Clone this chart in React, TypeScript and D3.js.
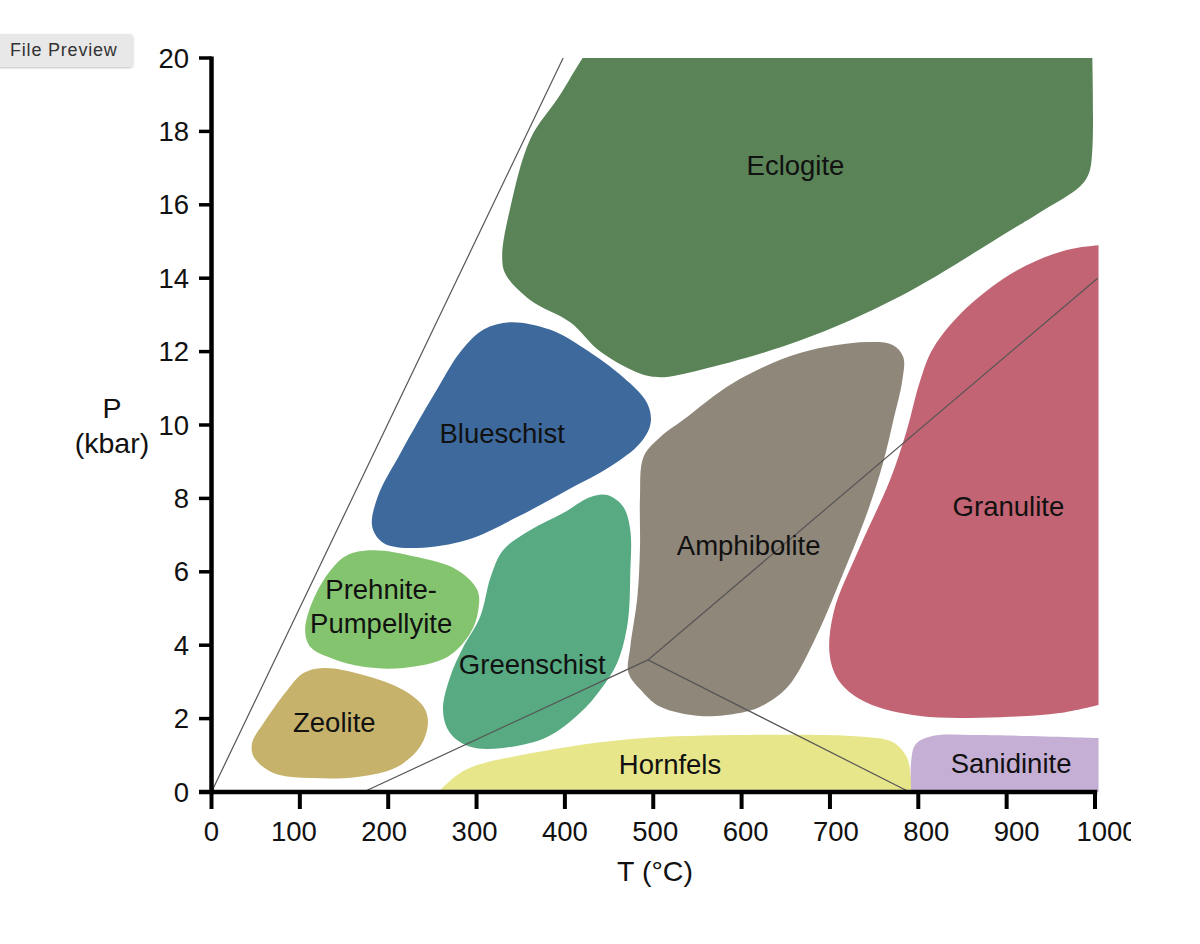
import React from "react";
import * as d3 from "d3";

type Pt = [number, number];

// Axis ticks
const T_TICKS = [0, 100, 200, 300, 400, 500, 600, 700, 800, 900, 1000];
const P_TICKS = [0, 2, 4, 6, 8, 10, 12, 14, 16, 18, 20];

// Facies outlines, [T (°C), P (kbar)]
const eclogite: Pt[] = [
  [420, 20], [997, 20], [997, 17.5], [993, 16.85], [983, 16.5], [938, 15.8],
  [904, 15.3], [779, 13.5], [666, 12.3], [553, 11.5], [508, 11.3], [485, 11.4],
  [440, 12.0], [406, 12.8], [361, 13.4], [333, 14.1], [329, 14.6], [338, 15.9],
  [361, 17.8], [392, 18.9], [406, 19.45],
];
const eclogiteCorners = [0, 1];
const blueschist: Pt[] = [
  [338, 12.8], [383, 12.6], [421, 12.1], [466, 11.3], [493, 10.6], [497, 10.05],
  [485, 9.5], [451, 8.86], [403, 8.23], [346, 7.49], [290, 6.87], [233, 6.65],
  [195, 6.78], [182, 7.22], [188, 8.04], [214, 9.24], [256, 11.0], [282, 12.0], [308, 12.6],
];
const prehnite: Pt[] = [
  [183, 6.59], [233, 6.4], [278, 6.05], [301, 5.5], [302, 4.96], [293, 4.33],
  [267, 3.68], [217, 3.38], [172, 3.41], [135, 3.65], [112, 3.95], [106, 4.41],
  [115, 5.23], [135, 6.05], [154, 6.46],
];
const zeolite: Pt[] = [
  [127, 3.38], [172, 3.19], [217, 2.78], [240, 2.32], [245, 1.88], [236, 1.23],
  [210, 0.68], [165, 0.41], [115, 0.38], [70, 0.52], [48, 0.95], [46, 1.34],
  [59, 1.88], [86, 2.78], [104, 3.24],
];
const greenschist: Pt[] = [
  [448, 8.09], [466, 7.77], [474, 7.14], [474, 5.97], [471, 4.6], [459, 3.51],
  [440, 2.78], [417, 2.15], [380, 1.5], [330, 1.2], [293, 1.23], [270, 1.61],
  [262, 2.23], [270, 3.13], [285, 3.95], [304, 4.77], [316, 5.86], [330, 6.59],
  [361, 7.14], [398, 7.6], [429, 8.04],
];
const amphibolite: Pt[] = [
  [742, 12.26], [771, 12.18], [783, 11.85], [782, 11.23], [771, 10.05], [760, 8.96],
  [742, 7.6], [712, 5.78], [681, 4.06], [652, 2.86], [621, 2.32], [598, 2.15],
  [553, 2.07], [508, 2.32], [489, 2.7], [472, 3.24], [474, 3.95], [482, 5.31],
  [485, 6.68], [485, 8.04], [489, 9.13], [508, 9.67], [534, 10.14], [590, 11.14], [666, 11.96],
];
const granulite: Pt[] = [
  [1004, 14.9], [1004, 2.37], [960, 2.15], [893, 2.04], [802, 2.07],
  [742, 2.43], [712, 2.97], [700, 3.68], [704, 4.88], [734, 6.68], [768, 8.5],
  [787, 9.86], [802, 11.2], [817, 12.1], [855, 13.2], [912, 14.22], [968, 14.77],
];
const granuliteCorners = [0, 1];
const hornfels: Pt[] = [
  [257, 0], [287, 0.6], [363, 1.06], [464, 1.42], [590, 1.55], [741, 1.5],
  [771, 1.36], [787, 0.95], [792, 0.3], [793, 0],
];
const hornfelsCorners = [0, 9];
const sanidinite: Pt[] = [
  [792, 0], [792, 0.85], [797, 1.3], [817, 1.53], [868, 1.55], [1004, 1.47], [1004, 0],
];
const sanidiniteCorners = [0, 5, 6];

const FACIES = [
  { name: "Eclogite", pts: eclogite, corners: eclogiteCorners, color: "#5a8457", label: [661, 17.08] as Pt },
  { name: "Blueschist", pts: blueschist, corners: [] as number[], color: "#3d699c", label: [329, 9.78] as Pt },
  { name: "Prehnite-\nPumpellyite", pts: prehnite, corners: [] as number[], color: "#85c46f", label: [192, 5.07] as Pt },
  { name: "Zeolite", pts: zeolite, corners: [] as number[], color: "#c6b26b", label: [139, 1.91] as Pt },
  { name: "Greenschist", pts: greenschist, corners: [] as number[], color: "#57aa82", label: [363, 3.49] as Pt },
  { name: "Amphibolite", pts: amphibolite, corners: [] as number[], color: "#8f877a", label: [608, 6.73] as Pt },
  { name: "Granulite", pts: granulite, corners: granuliteCorners, color: "#c26473", label: [902, 7.77] as Pt },
  { name: "Hornfels", pts: hornfels, corners: hornfelsCorners, color: "#e8e68a", label: [519, 0.76] as Pt },
  { name: "Sanidinite", pts: sanidinite, corners: sanidiniteCorners, color: "#c5afd4", label: [905, 0.79] as Pt },
];

// Reference lines
const boundaryLine: Pt[] = [[0, 0], [398, 20]];
const geotherm: Pt[] = [[172, 0], [494, 3.6], [1003, 14.0]];
const branchLine: Pt[] = [[494, 3.6], [790, 0]];

const FONT = "'Liberation Sans', Arial, Helvetica, sans-serif";

export default function App() {
  const x = d3.scaleLinear().domain([0, 1000]).range([211.5, 1095]);
  const y = d3.scaleLinear().domain([0, 20]).range([792, 58]);
  const xLab = d3.scaleLinear().domain([100, 1000]).range([x(100) - 6, x(1000) + 12]);

  const closedCurve = d3
    .line<Pt>()
    .x((d) => x(d[0]))
    .y((d) => y(d[1]))
    .curve(d3.curveCatmullRomClosed.alpha(0.5));
  const lin = d3
    .line<Pt>()
    .x((d) => x(d[0]))
    .y((d) => y(d[1]));

  // closed smooth outline that stays sharp (and straight) at the given corner points
  const shapePath = (pts: Pt[], corners: number[]): string => {
    if (!corners.length) return closedCurve(pts) || "";
    const n = pts.length;
    const cs = [...corners].sort((a, b) => a - b);
    const p = d3.path();
    let started = false;
    const ctx: any = {
      moveTo(a: number, b: number) {
        if (!started) { p.moveTo(a, b); started = true; } else p.lineTo(a, b);
      },
      lineTo(a: number, b: number) { p.lineTo(a, b); },
      bezierCurveTo(a: number, b: number, c: number, d: number, e: number, f: number) {
        p.bezierCurveTo(a, b, c, d, e, f);
      },
      closePath() {},
    };
    const seg = d3
      .line<Pt>()
      .x((d) => x(d[0]))
      .y((d) => y(d[1]))
      .curve(d3.curveCatmullRom.alpha(0.5))
      .context(ctx);
    for (let k = 0; k < cs.length; k++) {
      const s = cs[k];
      const e = k + 1 < cs.length ? cs[k + 1] : cs[0] + n;
      const part: Pt[] = [];
      for (let i = s; i <= e; i++) part.push(pts[i % n]);
      seg(part);
    }
    p.closePath();
    return p.toString();
  };

  return (
    <svg
      width={1200}
      height={944}
      style={{ position: "absolute", left: 0, top: 0, background: "#fff" }}
    >
      <defs>
        <clipPath id="clipR">
          <rect x={0} y={0} width={1131} height={944} />
        </clipPath>
        <filter id="sh" x="-10%" y="-30%" width="120%" height="170%">
          <feDropShadow dx="0" dy="1" stdDeviation="1.2" floodColor="#000" floodOpacity="0.25" />
        </filter>
      </defs>
      <rect x={0} y={0} width={1200} height={944} fill="#fff" />

      {/* File Preview button */}
      <rect x={-4} y={34} width={137} height={33} rx={4} fill="#e8e8e8" filter="url(#sh)" />
      <text x={10} y={56} fontFamily={FONT} fontSize={18} letterSpacing={0.8} fill="#333">
        File Preview
      </text>

      {/* facies fields */}
      {FACIES.map((f) => (
        <path key={f.name} d={shapePath(f.pts, f.corners)} fill={f.color} />
      ))}

      {/* reference lines */}
      {[boundaryLine, geotherm, branchLine].map((l, i) => (
        <path key={i} d={lin(l) || ""} fill="none" stroke="#555" strokeWidth={1.2} />
      ))}

      {/* labels */}
      {FACIES.map((f) => {
        const lines = f.name.split("\n");
        const cx = x(f.label[0]);
        const cy = y(f.label[1]);
        return (
          <text
            key={"l" + f.name}
            x={cx}
            y={cy}
            textAnchor="middle"
            fontFamily={FONT}
            fontSize={27.5}
            fill="#111"
          >
            {lines.map((s, i) => (
              <tspan key={i} x={cx} y={cy + (i - (lines.length - 1) / 2) * 34} dy="0.35em">
                {s}
              </tspan>
            ))}
          </text>
        );
      })}

      {/* axes */}
      <g stroke="#000" strokeLinecap="butt">
        <line x1={x(0)} x2={x(0)} y1={y(20) - 1.5} y2={y(0) + 2.2} strokeWidth={4.5} />
        <line x1={199} x2={x(1000) + 2.2} y1={y(0)} y2={y(0)} strokeWidth={4.5} />
        {P_TICKS.map((p) => (
          <line key={"py" + p} x1={199} x2={x(0)} y1={y(p)} y2={y(p)} strokeWidth={3.5} />
        ))}
        {T_TICKS.map((t) => (
          <line key={"tx" + t} x1={x(t)} x2={x(t)} y1={y(0)} y2={y(0) + 17} strokeWidth={4} />
        ))}
      </g>
      <g fontFamily={FONT} fontSize={27.5} fill="#111">
        {P_TICKS.map((p) => (
          <text key={"pl" + p} x={189} y={y(p)} dy="0.35em" textAnchor="end">
            {p}
          </text>
        ))}
        <g clipPath="url(#clipR)">
          {T_TICKS.map((t) => (
            <text key={"tl" + t} x={t === 0 ? x(0) : xLab(t)} y={841} textAnchor="middle">
              {t}
            </text>
          ))}
        </g>
        <text x={655} y={871} dy="0.35em" textAnchor="middle" fontSize={28.5}>
          T (°C)
        </text>
        <text x={112} y={408} dy="0.35em" textAnchor="middle" fontSize={28.5}>
          P
        </text>
        <text x={112} y={443} dy="0.35em" textAnchor="middle" fontSize={28.5}>
          (kbar)
        </text>
      </g>
    </svg>
  );
}
